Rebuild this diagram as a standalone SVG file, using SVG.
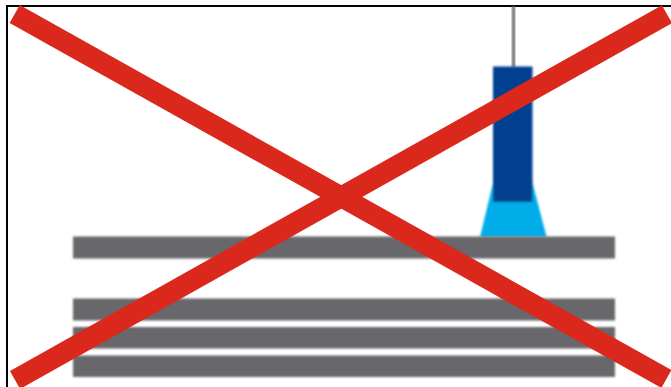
<svg xmlns="http://www.w3.org/2000/svg" width="671" height="387" viewBox="0 0 671 387">
<defs>
<style>
.bar{fill:#67676c;filter:url(#soft)}
.cross{stroke:#da281c;stroke-width:20.6;fill:none}
.frame{stroke:#000;stroke-width:2;fill:none}
</style>
<filter id="soft" x="-5%" y="-20%" width="110%" height="140%"><feGaussianBlur stdDeviation="0.8"/></filter>
</defs>
<rect width="671" height="387" fill="#fff"/>
<path class="frame" d="M7 387V6H671"/>
<g id="rod"><rect x="512" y="6" width="3" height="61" fill="#68686c" filter="url(#soft)"/></g>
<g id="head" filter="url(#soft)">
<path d="M493 183H532.5L546.7 237H480Z" fill="#00ade9"/>
<rect x="493" y="66.5" width="39.5" height="135.5" fill="#003f8f"/>
</g>
<g id="bars">
<rect class="bar" x="73" y="236.5" width="542" height="22"/>
<rect class="bar" x="73" y="298.5" width="542" height="22"/>
<rect class="bar" x="73" y="327" width="542" height="21.5"/>
<rect class="bar" x="73" y="355.5" width="542" height="21.5"/>
</g>
<g id="cross">
<path class="cross" d="M14.7 14L666.4 378.9"/>
<path class="cross" d="M15 380L667 14.2"/>
</g>
</svg>
